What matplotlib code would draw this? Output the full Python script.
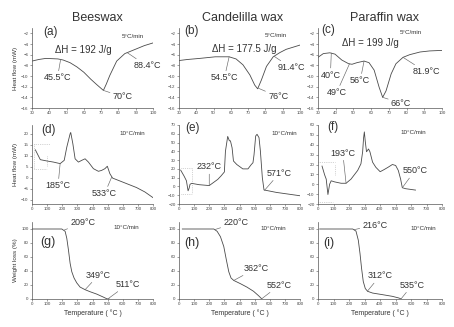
import matplotlib.pyplot as plt
import numpy as np

plt.rcParams['font.family'] = ['Liberation Sans', 'DejaVu Sans']

# DSC, 5 C/min
a_t = [30, 34, 38, 45, 48, 52, 56, 60, 64, 67.4, 71.3, 73, 75, 79, 83.7, 90.5, 95, 100]
a_hf = [-7.2, -6.9, -6.7, -6.8, -7.0, -7.5, -8.3, -9.3, -10.6, -11.6, -12.7, -11.5, -9.9, -7.2, -5.8, -4.9, -4.3, -3.8]
b_t = [30, 35, 42, 51, 59, 63, 67, 71, 73.8, 75.5, 77.6, 80.6, 84.5, 88.4, 92, 96, 100]
b_hf = [-7.1, -6.9, -6.7, -6.4, -6.4, -6.8, -7.9, -9.8, -11.7, -12.4, -10.8, -8.2, -6.4, -5.6, -5.0, -4.6, -4.2]
c_t = [30, 33, 36.7, 39.6, 43.4, 47.3, 49.2, 52, 56, 58.8, 61.7, 64.5, 66.5, 68.4, 71.3, 74, 78, 81.8, 87.6, 93, 100]
c_hf = [-6.5, -5.8, -5.65, -5.9, -7.0, -7.7, -7.8, -7.5, -7.2, -7.5, -8.9, -12.1, -14.0, -12.8, -9.6, -7.7, -6.5, -6.0, -5.5, -5.3, -5.2]

# DSC, 10 C/min
d_t = [22, 55, 99, 142, 186, 213, 230, 252, 256, 270, 285, 307, 329, 351, 373, 406, 439, 460, 482, 498, 515, 533, 559, 625, 691, 746, 800]
d_hf = [12.7, 8.2, 7.6, 7.1, 6.4, 7.9, 13.9, 20, 20.6, 15.5, 8.6, 7.1, 7.9, 8.6, 7.1, 4.1, 2.9, 3.3, 4.1, 5.2, 1.8, -0.2, -0.9, -2.7, -4.5, -6.5, -9.1]
e_t = [11, 33, 49, 60, 67, 73, 84, 133, 200, 256, 278, 300, 307, 322, 333, 340, 351, 360, 382, 422, 456, 478, 489, 496, 507, 516, 529, 538, 551, 562, 644, 800]
e_hf = [18.6, 12, 6.5, -5, -2, 2.5, 3.5, 2, 1, 8, 12, 16.5, 40, 57, 52, 52, 44, 29, 25, 20, 20, 25, 27, 36, 57.5, 59.4, 55.6, 40.5, 10, -4, -6.8, -10.6]
f_t = [26, 43, 53, 64, 75, 85, 107, 149, 181, 213, 256, 277, 288, 294, 299, 305, 313, 326, 335, 352, 373, 401, 426, 452, 480, 501, 518, 533, 544, 565, 629]
f_hf = [18.4, 9.4, 5.2, -10.4, 0, 3.5, 2.4, 1, 1, 5.2, 14, 20.7, 32.9, 46.8, 53, 43.3, 32.9, 35.7, 32.9, 22.4, 17.2, 12.7, 14.8, 17.2, 20, 19, 14, 5.2, -3.5, -4.5, -5.9]

# TGA, 10 C/min
g_t = [0, 197, 219, 230, 241, 252, 263, 278, 296, 318, 351, 384, 428, 471, 493, 504, 511]
g_wl = [100, 100, 96.7, 86.7, 70, 51, 39, 30, 23, 17, 13.3, 10.4, 7, 2.8, 0.5, 0, 0]
h_t = [22, 230, 252, 274, 296, 313, 329, 344, 362, 405, 449, 493, 526, 548]
h_wl = [100, 100, 96.7, 89, 75, 56, 39, 30, 26.5, 22, 17, 11, 4.7, 0]
i_t = [11, 224, 245, 260, 271, 281, 292, 305, 320, 352, 416, 480, 522, 537]
i_wl = [100, 100, 97, 84, 65, 44, 25, 15, 11, 8.5, 6.2, 3.8, 1.4, 0]

# dotted construction lines left in the original figure
d_guides = [([11, 120], [15.5, 15.5]), ([11, 99], [4.1, 4.1]), ([99, 99], [10, 4.8]), ([11, 11], [15.5, 4.1])]
e_guides = [([84, 84], [21, -9]), ([11, 89], [21, 21]), ([11, 84], [-9, -9])]
f_guides = [([0, 107], [23, 23]), ([0, 96], [-17.5, -17.5]), ([107, 107], [20, 8.7])]

titles = ['Beeswax', 'Candelilla wax', 'Paraffin wax']
title_x = [97, 243, 385]

col_left = [32, 179, 318]
col_w = [121, 121, 124]
row_top = [28, 125, 222]
row_h = [80, 79, 77]

W, H = 454, 327
fig = plt.figure(figsize=(W / 100, H / 100), dpi=100)

line_c = '#4a4a4a'
txt_c = '#333333'


def make_ax(r, c):
    rect = [col_left[c] / W, 1 - (row_top[r] + row_h[r]) / H, col_w[c] / W, row_h[r] / H]
    ax = fig.add_axes(rect)
    ax.spines['right'].set_visible(False)
    ax.spines['top'].set_visible(False)
    for s in ['left', 'bottom']:
        ax.spines[s].set_linewidth(0.5)
        ax.spines[s].set_color('#555555')
    ax.tick_params(direction='out', length=1.5, width=0.4, labelsize=3.2,
                   pad=1, colors='#555555', labelcolor='#444444')
    return ax


def note(ax, text, xy, fx, fy, size=6.5):
    ax.annotate(text, xy=xy, xytext=(fx, fy), textcoords='axes fraction',
                ha='center', va='center', fontsize=size, color=txt_c,
                arrowprops=dict(arrowstyle='-', lw=0.45, color='#666666',
                                shrinkA=0, shrinkB=0))


def label(ax, text, fx, fy, size=6.5):
    ax.text(fx, fy, text, transform=ax.transAxes, ha='center', va='center',
            fontsize=size, color=txt_c)


# row 1: DSC 5 C/min
dsc5 = [(a_t, a_hf), (b_t, b_hf), (c_t, c_hf)]
for c, (t, hf) in enumerate(dsc5):
    ax = make_ax(0, c)
    ax.plot(t, hf, color=line_c, lw=0.6)
    ax.set_xlim(30, 100)
    ax.set_ylim(-16, -1)
    ax.set_xticks(np.arange(30, 101, 10))
    ax.set_yticks(np.arange(-16, -1, 2))
    fig.text(title_x[c] / W, 1 - 18 / H, titles[c], ha='center', va='center',
             fontsize=9, color=txt_c)
    if c == 0:
        ax.set_ylabel('Heat flow (mW)', fontsize=4.5, labelpad=2, color=txt_c)
        label(ax, '(a)', 0.15, 0.95, 8.5)
        label(ax, 'ΔH = 192 J/g', 0.42, 0.725, 7)
        label(ax, '5°C/min', 0.83, 0.9, 4.5)
        note(ax, '45.5°C', (46.5, -7.0), 0.21, 0.375)
        note(ax, '88.4°C', (85, -5.6), 0.95, 0.525)
        note(ax, '70°C', (71.3, -12.7), 0.75, 0.14)
    elif c == 1:
        label(ax, '(b)', 0.1, 0.96, 8.5)
        label(ax, 'ΔH = 177.5 J/g', 0.54, 0.74, 7)
        label(ax, '5°C/min', 0.8, 0.91, 4.5)
        note(ax, '54.5°C', (59, -6.4), 0.375, 0.375)
        note(ax, '91.4°C', (85, -6.3), 0.93, 0.5)
        note(ax, '76°C', (76, -12.3), 0.82, 0.14)
    else:
        label(ax, '(c)', 0.08, 0.97, 8.5)
        label(ax, 'ΔH = 199 J/g', 0.42, 0.81, 7)
        label(ax, '5°C/min', 0.75, 0.94, 4.5)
        note(ax, '40°C', (37.5, -5.7), 0.1, 0.41)
        note(ax, '49°C', (47.8, -7.7), 0.15, 0.19)
        note(ax, '56°C', (56, -7.2), 0.34, 0.34)
        note(ax, '66°C', (66.5, -14.0), 0.67, 0.06)
        note(ax, '81.9°C', (78, -6.5), 0.87, 0.45)

# row 2: DSC 10 C/min
dsc10 = [(d_t, d_hf, d_guides, (-12, 24), np.arange(-10, 21, 5)),
         (e_t, e_hf, e_guides, (-20, 70), np.arange(-20, 71, 10)),
         (f_t, f_hf, f_guides, (-20, 60), np.arange(-20, 61, 10))]
for c, (t, hf, guides, ylim, yt) in enumerate(dsc10):
    ax = make_ax(1, c)
    for gx, gy in guides:
        ax.plot(gx, gy, color='#aaaaaa', lw=0.5, ls=':')
    ax.plot(t, hf, color=line_c, lw=0.6)
    ax.set_xlim(0, 800)
    ax.set_ylim(*ylim)
    ax.set_xticks(np.arange(0, 801, 100))
    ax.set_yticks(yt)
    if c == 0:
        ax.set_ylabel('Heat flow (mW)', fontsize=4.5, labelpad=2, color=txt_c)
        label(ax, '(d)', 0.14, 0.94, 8.5)
        label(ax, '10°C/min', 0.83, 0.89, 4.5)
        note(ax, '185°C', (186, 6.4), 0.215, 0.23)
        note(ax, '533°C', (527, 0.3), 0.6, 0.13)
    elif c == 1:
        label(ax, '(e)', 0.11, 0.96, 8.5)
        label(ax, '10°C/min', 0.87, 0.89, 4.5)
        note(ax, '232°C', (200, 1), 0.25, 0.47)
        note(ax, '571°C', (565, -4.5), 0.83, 0.39)
    else:
        label(ax, '(f)', 0.12, 0.97, 8.5)
        label(ax, '10°C/min', 0.77, 0.9, 4.5)
        note(ax, '193°C', (181, 1), 0.2, 0.645)
        note(ax, '550°C', (544, -3.5), 0.78, 0.42)

# row 3: TGA
tga = [(g_t, g_wl), (h_t, h_wl), (i_t, i_wl)]
for c, (t, wl) in enumerate(tga):
    ax = make_ax(2, c)
    ax.plot(t, wl, color=line_c, lw=0.6)
    ax.set_xlim(0, 800)
    ax.set_ylim(0, 110)
    ax.set_xticks(np.arange(0, 801, 100))
    ax.set_yticks(np.arange(0, 101, 20))
    ax.set_xlabel('Temperature ( °C )', fontsize=5, labelpad=2, color=txt_c)
    if c == 0:
        ax.set_ylabel('Weight loss (%)', fontsize=4.5, labelpad=2, color=txt_c)
        label(ax, '(g)', 0.13, 0.74, 9)
        label(ax, '10°C/min', 0.78, 0.935, 4.5)
        note(ax, '209°C', (213, 98.5), 0.42, 0.99)
        note(ax, '349°C', (351, 13.3), 0.55, 0.31)
        note(ax, '511°C', (504, 0.5), 0.79, 0.19)
    elif c == 1:
        label(ax, '(h)', 0.11, 0.73, 9)
        label(ax, '10°C/min', 0.78, 0.91, 4.5)
        note(ax, '220°C', (235, 99), 0.47, 0.99)
        note(ax, '362°C', (362, 26.5), 0.64, 0.4)
        note(ax, '552°C', (548, 0.5), 0.83, 0.18)
    else:
        label(ax, '(i)', 0.09, 0.73, 9)
        label(ax, '10°C/min', 0.85, 0.91, 4.5)
        note(ax, '216°C', (232, 99), 0.46, 0.96)
        note(ax, '312°C', (318, 11), 0.5, 0.3)
        note(ax, '535°C', (537, 0.5), 0.76, 0.18)

fig.savefig('out.png', dpi=100)
